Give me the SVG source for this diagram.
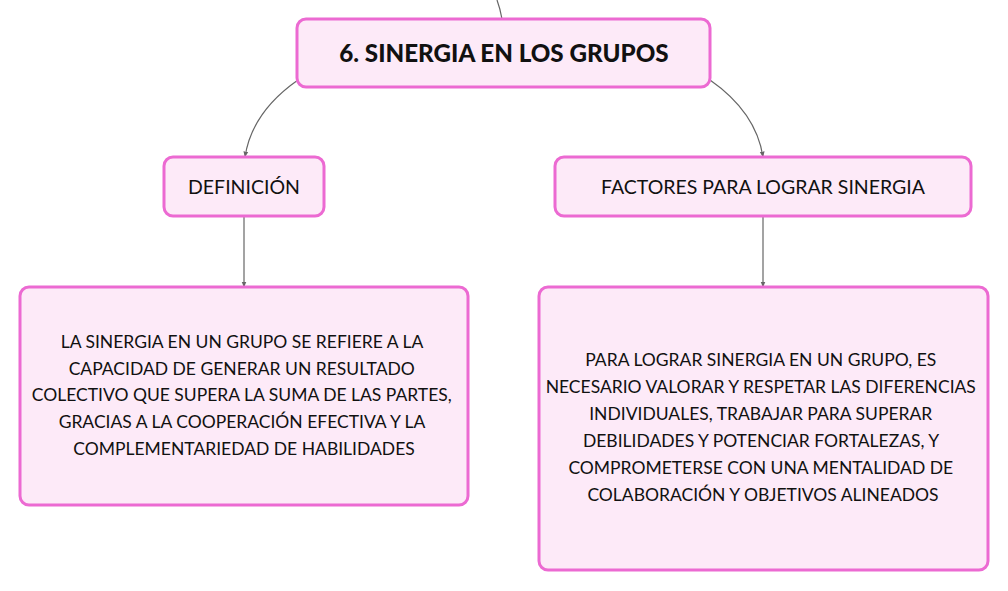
<svg xmlns="http://www.w3.org/2000/svg" width="1008" height="591" viewBox="0 0 1008 591">
<style>
.box{fill:#fdeaf8;stroke:#ec6ad2;stroke-width:3}
.t{font-family:Lato,"Noto Sans",sans-serif;fill:#111;text-anchor:middle}
.h{font-size:24.2px;font-weight:900}
.m{font-size:19.5px}
.b{font-size:17.5px}
.c{fill:none;stroke:#666;stroke-width:1.2}
</style>
<defs>
<marker id="ah" viewBox="0 0 10 10" refX="9" refY="5" markerWidth="5" markerHeight="5" orient="auto">
<path d="M0,1 L10,5 L0,9 z" fill="#666"/>
</marker>
</defs>
<rect width="1008" height="591" fill="#fff"/>
<g id="connectors">
<path class="c" d="M497,0 Q500,8 502,19"/>
<path class="c" d="M298,80 Q252,112 245,157" marker-end="url(#ah)"/>
<path class="c" d="M710,80 Q756,112 763,157" marker-end="url(#ah)"/>
<path class="c" d="M244,216 L244,287" marker-end="url(#ah)"/>
<path class="c" d="M763,216 L763,287" marker-end="url(#ah)"/>
</g>
<g id="n1">
<rect class="box" x="297" y="19" width="413" height="68" rx="9"/>
<text class="t h" x="504" y="62">6. SINERGIA EN LOS GRUPOS</text>
</g>
<g id="n2">
<rect class="box" x="164" y="157" width="160" height="59" rx="9"/>
<text class="t m" x="244" y="194">DEFINICIÓN</text>
</g>
<g id="n3">
<rect class="box" x="555" y="157" width="416" height="59" rx="9"/>
<text class="t m" x="763" y="194">FACTORES PARA LOGRAR SINERGIA</text>
</g>
<g id="n4">
<rect class="box" x="20" y="287" width="448" height="218" rx="9"/>
<text class="t b" x="244">
<tspan x="244" y="348">LA SINERGIA EN UN GRUPO SE REFIERE A LA</tspan>
<tspan x="244" y="375">CAPACIDAD DE GENERAR UN RESULTADO</tspan>
<tspan x="244" y="401">COLECTIVO QUE SUPERA LA SUMA DE LAS PARTES,</tspan>
<tspan x="244" y="428">GRACIAS A LA COOPERACIÓN EFECTIVA Y LA</tspan>
<tspan x="244" y="455">COMPLEMENTARIEDAD DE HABILIDADES</tspan>
</text>
</g>
<g id="n5">
<rect class="box" x="539" y="287" width="449" height="283" rx="9"/>
<text class="t b" x="763">
<tspan x="763" y="366">PARA LOGRAR SINERGIA EN UN GRUPO, ES</tspan>
<tspan x="763" y="393">NECESARIO VALORAR Y RESPETAR LAS DIFERENCIAS</tspan>
<tspan x="763" y="420">INDIVIDUALES, TRABAJAR PARA SUPERAR</tspan>
<tspan x="763" y="447">DEBILIDADES Y POTENCIAR FORTALEZAS, Y</tspan>
<tspan x="763" y="474">COMPROMETERSE CON UNA MENTALIDAD DE</tspan>
<tspan x="763" y="501">COLABORACIÓN Y OBJETIVOS ALINEADOS</tspan>
</text>
</g>
</svg>
